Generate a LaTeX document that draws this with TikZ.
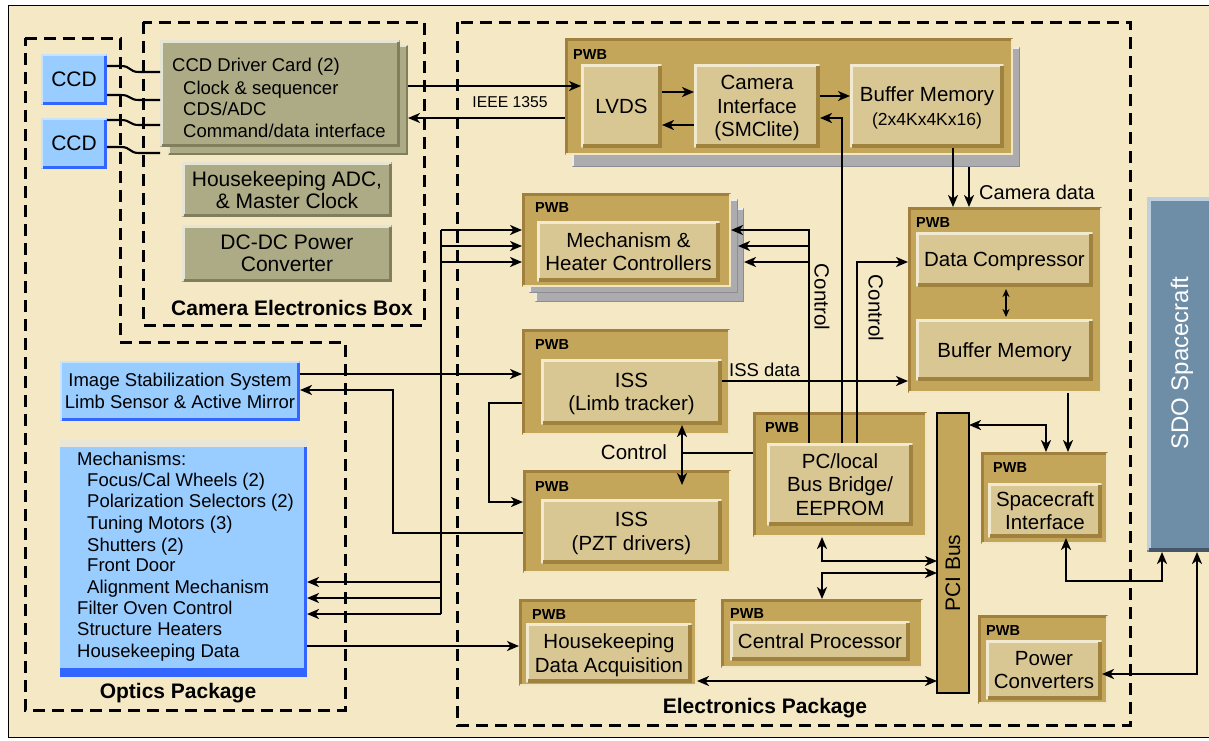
\documentclass[tikz,border=0pt]{standalone}
\usepackage{fontspec}
\setmainfont{Liberation Sans}
\usetikzlibrary{arrows.meta}

\definecolor{bg}{RGB}{245,232,197}
\definecolor{gold}{RGB}{196,166,90}
\definecolor{golddark}{RGB}{160,128,60}
\definecolor{goldlight}{RGB}{240,230,196}
\definecolor{tanc}{RGB}{217,199,147}
\definecolor{tanlight}{RGB}{242,234,208}
\definecolor{tandark}{RGB}{158,130,62}
\definecolor{olivec}{RGB}{173,171,134}
\definecolor{olivelight}{RGB}{230,228,210}
\definecolor{olivedark}{RGB}{128,126,92}
\definecolor{ltblue}{RGB}{153,204,255}
\definecolor{ltbluelight}{RGB}{200,226,255}
\definecolor{edgeblue}{RGB}{51,102,255}
\definecolor{stripgrey}{RGB}{232,230,216}
\definecolor{cardgrey}{RGB}{172,172,175}
\definecolor{cardlight}{RGB}{236,236,236}
\definecolor{carddark}{RGB}{140,140,145}
\definecolor{sdoc}{RGB}{110,142,168}
\definecolor{sdolight}{RGB}{190,208,222}
\definecolor{sdodark}{RGB}{68,86,104}

\newcommand\fs[2]{\fontsize{#1}{#2}\selectfont}
\newcommand\mkbox[7]{\node[#1,minimum width={(#5-#3)*1pt},minimum height={(#6-#4)*1pt}] (#2) at ({(#3+#5)/2},{(#4+#6)/2}) {#7};}
\newcommand\bev[5]{%
 \draw[#2,line width=#3pt] ([shift={(#3pt/2,#3pt/2)}]#1.south west) -- ([shift={(#3pt/2,-#3pt/2)}]#1.north west) -- ([shift={(-#3pt/2,-#3pt/2)}]#1.north east);
 \draw[#4,line width=#5pt] ([shift={(-#5pt/2,-#5pt/2)}]#1.north east) -- ([shift={(-#5pt/2,#5pt/2)}]#1.south east) -- ([shift={(#5pt/2,#5pt/2)}]#1.south west);}

\tikzset{
 mybx/.style={inner sep=0pt, outer sep=0pt, draw=none, align=center},
 mypwb/.style={mybx, fill=gold},
 mytan/.style={mybx, fill=tanc, text depth=0pt, font=\fs{20.5}{23.5}},
 myolive/.style={mybx, fill=olivec, text depth=0pt, font=\fs{21}{22}},
 myblue/.style={mybx, fill=ltblue, text depth=0pt},
 mycard/.style={mybx, fill=cardgrey},
 pwblabel/.style={inner sep=0pt, anchor=west, font=\bfseries\fs{14.5}{16}},
 mytxt/.style={inner sep=0pt, font=\fs{18.5}{21}},
 mytitle/.style={inner sep=0pt, font=\bfseries\fs{21}{24}},
 dashbox/.style={line width=3pt, dash pattern=on 12pt off 7pt},
 conn/.style={line width=2.1pt},
 arr/.style={conn, -{Stealth[length=12pt,width=10pt,inset=3.5pt]}},
 darr/.style={conn, {Stealth[length=12pt,width=10pt,inset=3.5pt]}-{Stealth[length=12pt,width=10pt,inset=3.5pt]}},
 wire/.style={line width=2.1pt},
}

\begin{document}
\begin{tikzpicture}[x=1pt,y=-1pt]
\useasboundingbox (0,0) rectangle (1209,740);
\fill[white] (0,0) rectangle (1209,740);
\draw[fill=bg, line width=1pt] (8,5) rectangle (1220,737);

% ---------- dashed package outlines
\draw[dashbox] (25,38) -- (120,38) -- (120,342) -- (345,342) -- (345,710) -- (25,710) -- cycle;
\draw[dashbox] (143,22) rectangle (424,325);
\draw[dashbox] (457,22) rectangle (1130,725);

% ---------- camera electronics box
\mkbox{myolive}{cardb}{168}{45}{408}{155}{}
\bev{cardb}{olivelight}{2}{olivedark}{2}
\mkbox{myolive}{card}{160}{40}{400}{147}{}
\bev{card}{olivelight}{2.5}{olivedark}{3.5}
\node[mytxt, anchor=base west] (cd1) at (172,71) {CCD Driver Card (2)};
\node[mytxt, anchor=base west] (cd2) at (183,94) {Clock \& sequencer};
\node[mytxt, anchor=base west] (cd3) at (183,115) {CDS/ADC};
\node[mytxt, anchor=base west] (cd4) at (183,137) {Command/data interface};
\mkbox{myolive}{hkadc}{182}{162}{392}{217}{Housekeeping ADC,\\\& Master Clock}
\bev{hkadc}{olivelight}{2.5}{olivedark}{3.5}
\mkbox{myolive}{dcdc}{182}{225}{392}{282}{DC-DC Power\\Converter}
\bev{dcdc}{olivelight}{2.5}{olivedark}{3.5}
\node[mytitle] (cebt) at (292,308) {Camera Electronics Box};

% ---------- CCDs
\mkbox{myblue,font=\fs{21}{24}}{ccda}{41}{54}{107}{105}{CCD}
\bev{ccda}{ltbluelight}{1.5}{edgeblue}{3.5}
\mkbox{myblue,font=\fs{21}{24}}{ccdb}{41}{118}{107}{169}{CCD}
\bev{ccdb}{ltbluelight}{1.5}{edgeblue}{3.5}
\foreach \ya/\yb/\nm in {66/72/ccda, 95/100/ccda, 120/125/ccdb, 147/153/ccdb}
  \draw[wire] (\nm.east |- 0,\ya) -- (121,\ya) .. controls (131,\ya) and (129,\yb) .. (139,\yb) -- (card.west |- 0,\yb);

% ---------- optics package
\mkbox{myblue,font=\fs{18.5}{22}}{issopt}{60}{361}{300}{421}{Image Stabilization System\\Limb Sensor \& Active Mirror}
\bev{issopt}{ltbluelight}{1.5}{edgeblue}{3}
\mkbox{myblue}{mechopt}{60}{440}{307}{677}{}
\fill[stripgrey] (mechopt.north west) rectangle ([yshift=-7pt]mechopt.north east);
\fill[edgeblue] ([shift={(-3.5pt,-7pt)}]mechopt.north east) rectangle (mechopt.south east);
\fill[edgeblue] ([yshift=9pt]mechopt.south west) rectangle (mechopt.south east);
\node[mytxt, anchor=base west] (m1) at (77,465) {Mechanisms:};
\node[mytxt, anchor=base west] (m2) at (87,486.6) {Focus/Cal Wheels (2)};
\node[mytxt, anchor=base west] (m3) at (87,507.6) {Polarization Selectors (2)};
\node[mytxt, anchor=base west] (m4) at (87,529.3) {Tuning Motors (3)};
\node[mytxt, anchor=base west] (m5) at (87,551) {Shutters (2)};
\node[mytxt, anchor=base west] (m6) at (87,571.6) {Front Door};
\node[mytxt, anchor=base west] (m7) at (87,593.3) {Alignment Mechanism};
\node[mytxt, anchor=base west] (m8) at (77,614.3) {Filter Oven Control};
\node[mytxt, anchor=base west] (m9) at (77,635.6) {Structure Heaters};
\node[mytxt, anchor=base west] (m10) at (77,657.3) {Housekeeping Data};
\node[mytitle] (opt) at (178,693) {Optics Package};

% ---------- electronics: camera PWB
\mkbox{mycard}{campwbs}{572}{47}{1020}{167}{}
\bev{campwbs}{cardlight}{2}{carddark}{1.5}
\mkbox{mypwb}{campwb}{565}{38}{1013}{155}{}
\bev{campwb}{golddark}{2.5}{goldlight}{2}
\node[pwblabel] (p1) at (573,55) {PWB};
\mkbox{mytan}{lvds}{581}{64}{662}{148}{LVDS}
\bev{lvds}{tanlight}{2.5}{tandark}{4}
\mkbox{mytan}{camif}{694}{64}{820}{148}{Camera\\Interface\\(SMClite)}
\bev{camif}{tanlight}{2.5}{tandark}{4}
\mkbox{mytan}{bufmem}{850}{64}{1004}{148}{Buffer Memory\\{\fs{17.5}{20}(2x4Kx4Kx16)}}
\bev{bufmem}{tanlight}{2.5}{tandark}{4}

% ---------- mechanism & heater controllers (stack)
\mkbox{mycard}{mech3}{535}{208}{744}{302}{}
\bev{mech3}{cardlight}{2}{carddark}{1.5}
\mkbox{mycard}{mech2}{529}{199}{738}{293}{}
\bev{mech2}{cardlight}{2}{carddark}{1.5}
\mkbox{mypwb}{mechpwb}{522}{193}{731}{287}{}
\bev{mechpwb}{golddark}{2.5}{goldlight}{2}
\node[pwblabel] (p2) at (535,208) {PWB};
\mkbox{mytan}{mechin}{537}{221}{720}{282}{Mechanism \&\\Heater Controllers}
\bev{mechin}{tanlight}{2.5}{tandark}{4}

% ---------- ISS limb tracker
\mkbox{mypwb}{limbpwb}{522}{329}{730}{435}{}
\bev{limbpwb}{golddark}{2.5}{goldlight}{2}
\node[pwblabel] (p3) at (535,345) {PWB};
\mkbox{mytan}{limbin}{541}{359}{722}{425}{ISS\\(Limb tracker)}
\bev{limbin}{tanlight}{2.5}{tandark}{4}

% ---------- ISS PZT
\mkbox{mypwb}{pztpwb}{523}{470}{731}{573}{}
\bev{pztpwb}{golddark}{2.5}{goldlight}{2}
\node[pwblabel] (p4) at (535,486) {PWB};
\mkbox{mytan}{pztin}{541}{499}{722}{564}{ISS\\(PZT drivers)}
\bev{pztin}{tanlight}{2.5}{tandark}{4}

% ---------- PC/local bus bridge
\mkbox{mypwb}{pclpwb}{753}{412}{927}{537}{}
\bev{pclpwb}{golddark}{2.5}{goldlight}{2}
\node[pwblabel] (p5) at (765,427) {PWB};
\mkbox{mytan}{pclin}{767}{443}{913}{526}{PC/local\\Bus Bridge/\\EEPROM}
\bev{pclin}{tanlight}{2.5}{tandark}{4}

% ---------- housekeeping data acquisition
\mkbox{mypwb}{hkpwb}{519}{599}{697}{686}{}
\bev{hkpwb}{golddark}{2.5}{goldlight}{2}
\node[pwblabel] (p6) at (532,614) {PWB};
\mkbox{mytan}{hkin}{526}{623}{692}{683}{Housekeeping\\Data Acquisition}
\bev{hkin}{tanlight}{2.5}{tandark}{4}

% ---------- central processor
\mkbox{mypwb}{cppwb}{721}{599}{923}{668}{}
\bev{cppwb}{golddark}{2.5}{goldlight}{2}
\node[pwblabel] (p7) at (730,613) {PWB};
\mkbox{mytan}{cpin}{730}{621}{910}{661}{Central Processor}
\bev{cpin}{tanlight}{2.5}{tandark}{4}

% ---------- data compressor / buffer memory
\mkbox{mypwb}{dcpwb}{908}{207}{1102}{393}{}
\bev{dcpwb}{golddark}{2.5}{goldlight}{2}
\node[pwblabel] (p8) at (916,223) {PWB};
\mkbox{mytan}{dcin}{916}{232}{1093}{287}{Data Compressor}
\bev{dcin}{tanlight}{2.5}{tandark}{4}
\mkbox{mytan}{bmin}{916}{319}{1093}{381}{Buffer Memory}
\bev{bmin}{tanlight}{2.5}{tandark}{4}

% ---------- spacecraft interface
\mkbox{mypwb}{scpwb}{981}{452}{1108}{544}{}
\bev{scpwb}{golddark}{2.5}{goldlight}{2}
\node[pwblabel] (p9) at (993,467) {PWB};
\mkbox{mytan}{scin}{988}{483}{1102}{538}{Spacecraft\\Interface}
\bev{scin}{tanlight}{2.5}{tandark}{4}

% ---------- power converters
\mkbox{mypwb}{pwpwb}{978}{615}{1108}{704}{}
\bev{pwpwb}{golddark}{2.5}{goldlight}{2}
\node[pwblabel] (p10) at (986,630) {PWB};
\mkbox{mytan}{pwin}{986}{640}{1102}{700}{Power\\Converters}
\bev{pwin}{tanlight}{2.5}{tandark}{4}

% ---------- PCI bus
\mkbox{mypwb,draw=black,line width=1.6pt}{pci}{937}{413}{969}{693}{}
\node[rotate=90, inner sep=0pt, font=\fs{21}{24}] (pcit) at (953,573) {PCI Bus};

% ---------- SDO spacecraft
\mkbox{mybx,fill=sdoc}{sdo}{1147}{197}{1215}{552}{}
\bev{sdo}{sdolight}{4}{sdodark}{4}
\node[rotate=90, inner sep=0pt, text=white, font=\fs{24}{26}] (sdot) at (1182,363) {SDO Spacecraft};

\node[mytitle] (elp) at (765,708) {Electronics Package};

% ---------- connectors
\draw[arr] (cardb.east |- 0,86) -- (lvds.west |- 0,86);
\draw[arr] (campwb.west |- 0,118) -- (cardb.east |- 0,118);
\node[inner sep=0pt, font=\fs{15.7}{18}] (ieee) at (510,102) {IEEE 1355};
\draw[arr] (lvds.east |- 0,92) -- (camif.west |- 0,92);
\draw[arr] (camif.west |- 0,125) -- (lvds.east |- 0,125);
\draw[arr] (camif.east |- 0,96) -- (bufmem.west |- 0,96);
\draw[arr] (pclin.north -| 842,0) |- (camif.east |- 0,118);
\draw[arr] (bufmem.south -| 953,0) -- (dcpwb.north -| 953,0);
\draw[arr] (campwbs.south -| 969,0) -- (dcpwb.north -| 969,0);
\node[inner sep=0pt, anchor=west, font=\fs{20}{22}] (camdata) at (979,192) {Camera data};

\coordinate (j1) at (809,246);
\coordinate (j2) at (809,262);
\draw[arr] (pclin.north -| 809,0) |- (mechpwb.east |- 0,230);
\draw[arr] (j1) -- (mech2.east |- j1);
\draw[arr] (j2) -- (mech3.east |- j2);
\node[rotate=-90, inner sep=0pt, font=\fs{20.5}{23}] (ctl1) at (822,297) {Control};
\draw[arr] (pclin.north -| 857,0) |- (dcpwb.west |- 0,262);
\node[rotate=-90, inner sep=0pt, font=\fs{20.5}{23}] (ctl2) at (876,308) {Control};
\draw[conn, {Stealth[length=8pt,width=7pt,inset=2.5pt]}-{Stealth[length=8pt,width=7pt,inset=2.5pt]}] ([yshift=-2pt]dcin.south -| 1006,0) -- ([yshift=2pt]bmin.north -| 1006,0);
\draw[arr] (limbin.east |- 0,381) -- (dcpwb.west |- 0,381);
\node[inner sep=0pt, anchor=west, font=\fs{18.5}{21}] (issd) at (729,370) {ISS data};

\draw[arr] (issopt.east |- 0,374) -- (limbpwb.west |- 0,374);
\draw[arr] (pztpwb.west |- 0,533) -- (393,533) -- (393,390) -- (issopt.east |- 0,390);
\coordinate (bt) at (441,230);
\coordinate (bb) at (441,614);
\draw[conn] (bt) -- (bb);
\foreach \yy in {230,246,262} \draw[arr] (441,\yy) -- (mechpwb.west |- 0,\yy);
\foreach \yy in {582,598,614} \draw[arr] (441,\yy) -- (mechopt.east |- 0,\yy);
\draw[arr] (mechopt.east |- 0,646) -- (hkpwb.west |- 0,646);

\draw[arr] (limbpwb.west |- 0,403) -- (489,403) -- (489,502) -- (pztpwb.west |- 0,502);
\draw[darr] (limbin.south -| 682,0) -- ([yshift=-15pt]pztpwb.north -| 682,0);
\draw[conn] (682,453) -- (pclpwb.west |- 0,453);
\node[inner sep=0pt, font=\fs{20.5}{23}] (ctl3) at (634,452) {Control};

\draw[darr] (pclpwb.south -| 822,0) |- (pci.west |- 0,561);
\draw[darr] (cppwb.north -| 822,0) |- (pci.west |- 0,573);
\draw[darr] (hkpwb.east |- 0,681) -- (pci.west |- 0,681);
\draw[darr] (pci.east |- 0,425) -| (scpwb.north -| 1046,0);
\draw[arr] (dcpwb.south -| 1068,0) -- (scpwb.north -| 1068,0);
\draw[darr] (scin.south -| 1066,0) -- (1066,581) -| (sdo.south -| 1162,0);
\draw[darr] (pwin.east |- 0,674) -| (sdo.south -| 1197,0);
\end{tikzpicture}
\end{document}
